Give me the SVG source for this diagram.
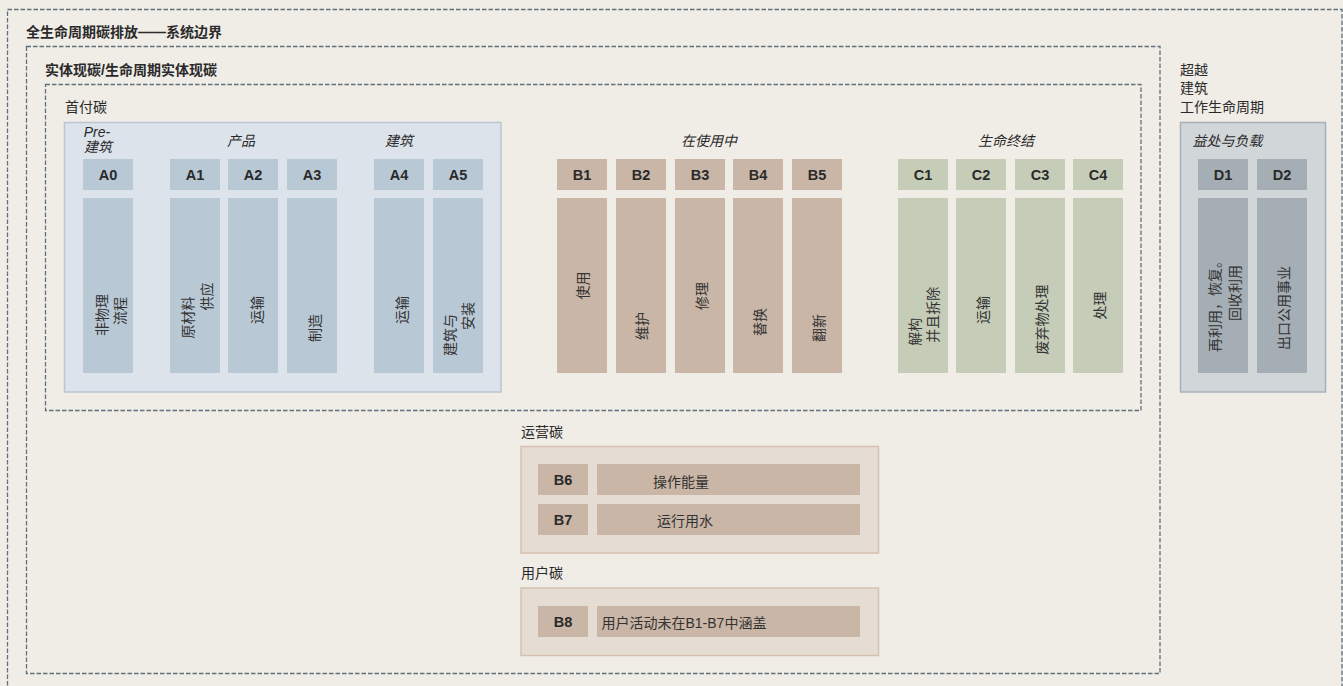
<svg xmlns="http://www.w3.org/2000/svg" width="1343" height="686" viewBox="0 0 1343 686">
<style>
text{font-family:"Liberation Sans","Noto Sans CJK SC",sans-serif;fill:#2a2a2a;}
.bnd{fill:none;stroke:#5f717c;stroke-width:1.3;stroke-dasharray:4.5 2;}
.ttl{font-size:14px;font-weight:bold;}
.lbl{font-size:14px;}
.it{font-size:14px;font-style:italic;text-anchor:middle;dominant-baseline:central;}
.code{font-size:14.5px;font-weight:bold;text-anchor:middle;dominant-baseline:central;}
.v{font-size:14px;text-anchor:middle;dominant-baseline:central;fill:#333;}
.a{fill:#b9c8d5;}
.b{fill:#c9b6a6;}
.c{fill:#c5cdb8;}
.d{fill:#a4aeb4;}
.wide{font-size:14px;dominant-baseline:central;fill:#333;}
</style>
<rect x="0" y="0" width="1343" height="686" fill="#f0ece6"/>

<g id="boundaries">
<rect class="bnd" x="7.5" y="9.5" width="1334.5" height="700"/>
<rect class="bnd" x="26.5" y="46.5" width="1133.5" height="627"/>
<rect class="bnd" x="45.5" y="84.5" width="1095.5" height="326"/>
<text class="ttl" x="26" y="32" dominant-baseline="central">全生命周期碳排放——系统边界</text>
<text class="ttl" x="45" y="70" dominant-baseline="central">实体现碳/生命周期实体现碳</text>
<text class="lbl" x="65" y="107" dominant-baseline="central">首付碳</text>
<text class="lbl" x="1180" y="70" dominant-baseline="central">超越</text>
<text class="lbl" x="1180" y="88" dominant-baseline="central">建筑</text>
<text class="lbl" x="1180" y="106.5" dominant-baseline="central">工作生命周期</text>
<text class="lbl" x="521" y="431.5" dominant-baseline="central">运营碳</text>
<text class="lbl" x="521" y="573" dominant-baseline="central">用户碳</text>
</g>

<g id="panel-A">
<rect x="64.5" y="122.5" width="436.5" height="269.5" fill="#dce3eb" stroke="#b9c7d4" stroke-width="1.5"/>
<text class="it" x="97" y="132">Pre-</text>
<text class="it" x="98" y="147">建筑</text>
<text class="it" x="241" y="141">产品</text>
<text class="it" x="399" y="141">建筑</text>
</g>
<g id="A0"><rect class="a" x="83" y="159" width="50" height="31"/><text class="code" x="108" y="175">A0</text><rect class="a" x="83" y="198" width="50" height="175"/><text class="v" transform="translate(101.7,315) rotate(-90)">非物理</text><text class="v" transform="translate(120,311) rotate(-90)">流程</text></g>
<g id="A1"><rect class="a" x="170" y="159" width="50" height="31"/><text class="code" x="195" y="175">A1</text><rect class="a" x="170" y="198" width="50" height="175"/><text class="v" transform="translate(188.3,317.5) rotate(-90)">原材料</text><text class="v" transform="translate(206.7,296.5) rotate(-90)">供应</text></g>
<g id="A2"><rect class="a" x="228" y="159" width="50" height="31"/><text class="code" x="253" y="175">A2</text><rect class="a" x="228" y="198" width="50" height="175"/><text class="v" transform="translate(256.7,310) rotate(-90)">运输</text></g>
<g id="A3"><rect class="a" x="287" y="159" width="50" height="31"/><text class="code" x="312" y="175">A3</text><rect class="a" x="287" y="198" width="50" height="175"/><text class="v" transform="translate(315,328) rotate(-90)">制造</text></g>
<g id="A4"><rect class="a" x="374" y="159" width="50" height="31"/><text class="code" x="399" y="175">A4</text><rect class="a" x="374" y="198" width="50" height="175"/><text class="v" transform="translate(401.7,310) rotate(-90)">运输</text></g>
<g id="A5"><rect class="a" x="433" y="159" width="50" height="31"/><text class="code" x="458" y="175">A5</text><rect class="a" x="433" y="198" width="50" height="175"/><text class="v" transform="translate(450,335) rotate(-90)">建筑与</text><text class="v" transform="translate(468,316) rotate(-90)">安装</text></g>

<g id="group-B"><text class="it" x="709" y="141">在使用中</text></g>
<g id="B1"><rect class="b" x="557" y="159" width="50" height="31"/><text class="code" x="582" y="175">B1</text><rect class="b" x="557" y="198" width="50" height="175"/><text class="v" transform="translate(583,285.5) rotate(-90)">使用</text></g>
<g id="B2"><rect class="b" x="616" y="159" width="50" height="31"/><text class="code" x="641" y="175">B2</text><rect class="b" x="616" y="198" width="50" height="175"/><text class="v" transform="translate(641.7,326) rotate(-90)">维护</text></g>
<g id="B3"><rect class="b" x="675" y="159" width="50" height="31"/><text class="code" x="700" y="175">B3</text><rect class="b" x="675" y="198" width="50" height="175"/><text class="v" transform="translate(701.7,296) rotate(-90)">修理</text></g>
<g id="B4"><rect class="b" x="733" y="159" width="50" height="31"/><text class="code" x="758" y="175">B4</text><rect class="b" x="733" y="198" width="50" height="175"/><text class="v" transform="translate(760,322) rotate(-90)">替换</text></g>
<g id="B5"><rect class="b" x="792" y="159" width="50" height="31"/><text class="code" x="817" y="175">B5</text><rect class="b" x="792" y="198" width="50" height="175"/><text class="v" transform="translate(819.3,328) rotate(-90)">翻新</text></g>

<g id="group-C"><text class="it" x="1006" y="141">生命终结</text></g>
<g id="C1"><rect class="c" x="898" y="159" width="50" height="31"/><text class="code" x="923" y="175">C1</text><rect class="c" x="898" y="198" width="50" height="175"/><text class="v" transform="translate(915,331.7) rotate(-90)">解构</text><text class="v" transform="translate(933.3,314.7) rotate(-90)">并且拆除</text></g>
<g id="C2"><rect class="c" x="956" y="159" width="50" height="31"/><text class="code" x="981" y="175">C2</text><rect class="c" x="956" y="198" width="50" height="175"/><text class="v" transform="translate(983.3,310) rotate(-90)">运输</text></g>
<g id="C3"><rect class="c" x="1015" y="159" width="50" height="31"/><text class="code" x="1040" y="175">C3</text><rect class="c" x="1015" y="198" width="50" height="175"/><text class="v" transform="translate(1041.7,319.5) rotate(-90)">废弃物处理</text></g>
<g id="C4"><rect class="c" x="1073" y="159" width="50" height="31"/><text class="code" x="1098" y="175">C4</text><rect class="c" x="1073" y="198" width="50" height="175"/><text class="v" transform="translate(1100,305.5) rotate(-90)">处理</text></g>

<g id="panel-D">
<rect x="1180.5" y="122.5" width="145" height="269.5" fill="#d1d6d9" stroke="#a8b1b8" stroke-width="1.5"/>
<text class="it" x="1227.5" y="141">益处与负载</text>
</g>
<g id="D1"><rect class="d" x="1198" y="159" width="50" height="31"/><text class="code" x="1223" y="175">D1</text><rect class="d" x="1198" y="198" width="50" height="175"/><text class="v" transform="translate(1215,303) rotate(-90)">再利用，恢复。</text><text class="v" transform="translate(1235,293) rotate(-90)">回收利用</text></g>
<g id="D2"><rect class="d" x="1257" y="159" width="50" height="31"/><text class="code" x="1282" y="175">D2</text><rect class="d" x="1257" y="198" width="50" height="175"/><text class="v" transform="translate(1284,308) rotate(-90)">出口公用事业</text></g>

<g id="operational">
<rect x="521" y="446.5" width="357.5" height="106.5" fill="#e5ddd4" stroke="#d5c1b1" stroke-width="1.5"/>
</g>
<g id="B6"><rect class="b" x="538" y="464" width="50" height="31"/><text class="code" x="563" y="480">B6</text><rect class="b" x="597" y="464" width="263" height="31"/><text class="wide" x="653" y="482">操作能量</text></g>
<g id="B7"><rect class="b" x="538" y="504" width="50" height="31"/><text class="code" x="563" y="520">B7</text><rect class="b" x="597" y="504" width="263" height="31"/><text class="wide" x="657" y="521">运行用水</text></g>
<g id="user">
<rect x="521" y="588" width="357.5" height="67.5" fill="#e5ddd4" stroke="#d5c1b1" stroke-width="1.5"/>
</g>
<g id="B8"><rect class="b" x="538" y="606" width="50" height="31"/><text class="code" x="563" y="622">B8</text><rect class="b" x="597" y="606" width="263" height="31"/><text class="wide" x="601.5" y="623">用户活动未在B1-B7中涵盖</text></g>

<g id="connectors"/>
</svg>
